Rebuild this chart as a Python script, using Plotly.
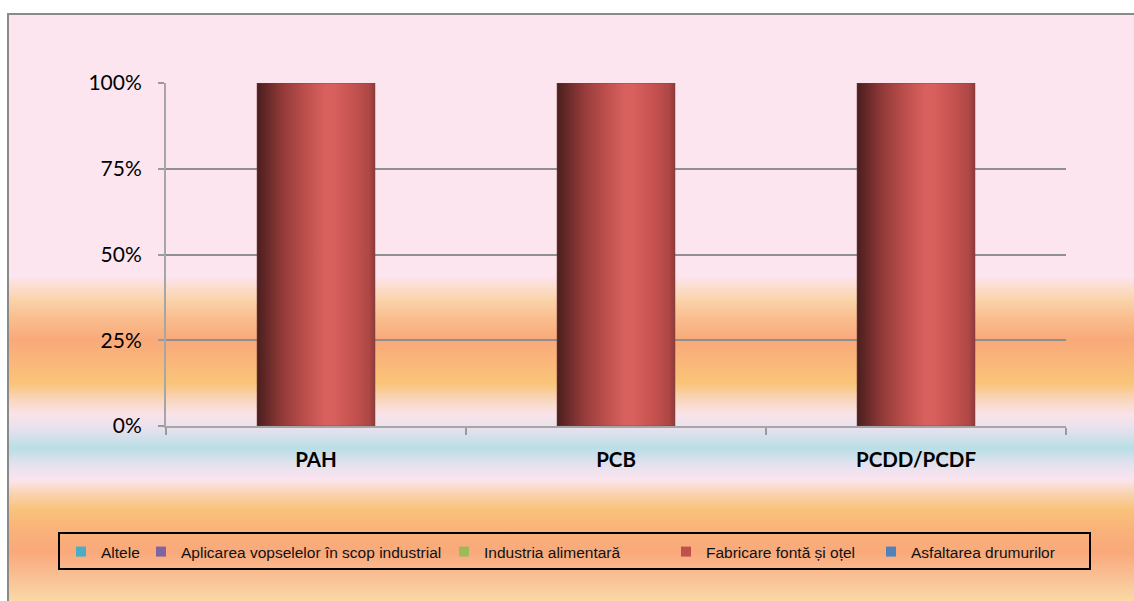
import base64
import plotly.graph_objects as go

# ---------------- data ----------------
categories = ["PAH", "PCB", "PCDD/PCDF"]
series_names = [
    "Altele",
    "Aplicarea vopselelor în scop industrial",
    "Industria alimentară",
    "Fabricare fontă și oțel",
    "Asfaltarea drumurilor",
]
altele = [0, 0, 0]
aplicarea_vopselelor = [0, 0, 0]
industria_alimentara = [0, 0, 0]
fabricare_fonta_otel = [100, 100, 100]
asfaltarea_drumurilor = [0, 0, 0]
series_values = [altele, aplicarea_vopselelor, industria_alimentara,
                 fabricare_fonta_otel, asfaltarea_drumurilor]
series_colors = ["#4BACC6", "#8064A2", "#9BBB59", "#C0504D", "#4F81BD"]
y_tick_vals = [0, 25, 50, 75, 100]
y_tick_text = ["0%", "25%", "50%", "75%", "100%"]

# legend entry widths (px), style only
legend_widths = [35, 258, 177, 160, 160]

W, H = 1134, 601
BAR_W = 0.393

def px_x(p):
    return p / W

def px_y(p):
    return 1 - p / H

fig = go.Figure()

# stacked bars (data)
for name, vals, col in zip(series_names, series_values, series_colors):
    fig.add_trace(go.Bar(
        x=categories, y=vals, name=name, width=BAR_W,
        marker=dict(color=col, line=dict(width=0)),
        xaxis="x", yaxis="y", showlegend=False,
    ))

# legend entries (small square keys)
for name, col, lw in zip(series_names, series_colors, legend_widths):
    fig.add_trace(go.Scatter(
        x=[None], y=[None], name=name, mode="markers",
        marker=dict(symbol="square", size=10, color=col),
        legendwidth=lw, xaxis="x", yaxis="y", hoverinfo="skip",
    ))

# cylinder-like gradient overlay for each non-zero stacked segment
bar_scale = [
    [0.0, "#4A1E1E"], [0.08, "#652828"], [0.22, "#933B39"],
    [0.40, "#BA4E4B"], [0.58, "#D9615E"], [0.66, "#D75F5C"],
    [0.82, "#C55250"], [0.95, "#AE4745"], [1.0, "#8E3B3A"],
]
base = [0.0] * len(categories)
for name, vals, col in zip(series_names, series_values, series_colors):
    for i, v in enumerate(vals):
        if v > 0:
            x0, x1 = i - BAR_W / 2, i + BAR_W / 2
            y0, y1 = base[i], base[i] + v
            fig.add_trace(go.Scatter(
                x=[x0, x0, x1, x1, x0], y=[y0, y1, y1, y0, y0],
                mode="lines", fill="toself",
                line=dict(width=1, color="rgba(120,60,60,0.55)"),
                fillgradient=dict(type="horizontal", colorscale=bar_scale),
                xaxis="x2", yaxis="y", showlegend=False, hoverinfo="skip",
            ))
        base[i] += v

# background gradient as inline SVG image
stops = [
    (14, "#FDE5F0"), (276, "#FDE5F0"), (298, "#FAD5AE"), (318, "#F9BE8E"),
    (340, "#F9A97A"), (362, "#F9B77A"), (383, "#F9C478"), (400, "#F9D6BE"),
    (414, "#FAE3E8"), (428, "#E9E1EE"), (448, "#B9DEE6"), (466, "#E7E2EE"),
    (480, "#FBE4EE"), (494, "#F9D3AE"), (510, "#F9C27A"), (530, "#F9B27A"),
    (552, "#F9A97A"), (578, "#F9C196"), (601, "#FBD8A6"),
]
stop_svg = "".join(
    f'<stop offset="{(y - 14) / (H - 14):.4f}" stop-color="{c}"/>' for y, c in stops
)
svg = (
    f'<svg xmlns="http://www.w3.org/2000/svg" width="{W}" height="{H - 14}" '
    f'viewBox="0 0 {W} {H - 14}" preserveAspectRatio="none">'
    f'<defs><linearGradient id="g" x1="0" y1="0" x2="0" y2="1">{stop_svg}</linearGradient></defs>'
    f'<rect x="0" y="0" width="{W}" height="{H - 14}" fill="url(#g)"/></svg>'
)
src = "data:image/svg+xml;base64," + base64.b64encode(svg.encode()).decode()

fig.update_layout(
    width=W, height=H,
    margin=dict(l=0, r=0, t=0, b=0, pad=0, autoexpand=False),
    paper_bgcolor="white",
    plot_bgcolor="rgba(0,0,0,0)",
    barmode="stack",
    bargap=0,
    images=[dict(source=src, xref="paper", yref="paper",
                 x=px_x(8), y=px_y(14), sizex=1 - px_x(8), sizey=px_y(14),
                 xanchor="left", yanchor="top", sizing="stretch", layer="below")],
    xaxis=dict(
        domain=[px_x(166), px_x(1066)],
        type="category",
        categoryorder="array", categoryarray=categories,
        tickson="boundaries",
        ticks="outside", ticklen=7, tickwidth=2, tickcolor="#9A9A9A",
        showline=True, linecolor="#A6A6A6", linewidth=2,
        showgrid=False,
        tickfont=dict(family="Lato", size=20.5, color="black", weight="bold"),
        ticklabelstandoff=14,
        automargin=False,
        anchor="y",
    ),
    xaxis2=dict(
        overlaying="x", range=[-0.5, len(categories) - 0.5],
        visible=False, anchor="y", automargin=False,
    ),
    yaxis=dict(
        domain=[px_y(426), px_y(83)],
        range=[0, 100],
        tickvals=y_tick_vals, ticktext=y_tick_text,
        ticks="outside", ticklen=6, tickwidth=2, tickcolor="#9A9A9A",
        showline=True, linecolor="#A6A6A6", linewidth=2,
        showgrid=True, gridcolor="#8F8F8F", gridwidth=2,
        zeroline=False,
        tickfont=dict(family="Lato", size=21, color="black"),
        ticklabelstandoff=12,
        automargin=False,
        anchor="x",
    ),
    legend=dict(
        orientation="h",
        x=px_x(61), xanchor="left",
        y=px_y(552), yanchor="middle",
        bgcolor="rgba(0,0,0,0)", borderwidth=0,
        font=dict(family="Liberation Sans", size=15.5, color="#111111"),
        itemwidth=30,
        itemclick=False, itemdoubleclick=False,
        traceorder="normal",
    ),
    shapes=[
        # outer chart border
        dict(type="rect", xref="paper", yref="paper",
             x0=px_x(8), x1=1.05, y0=-0.05, y1=px_y(14),
             line=dict(color="#8A8A8A", width=2), fillcolor="rgba(0,0,0,0)",
             layer="above"),
        # legend border
        dict(type="rect", xref="paper", yref="paper",
             x0=px_x(59), x1=px_x(1090), y0=px_y(569), y1=px_y(533),
             line=dict(color="black", width=2), fillcolor="rgba(0,0,0,0)",
             layer="above"),
    ],
    showlegend=True,
)

fig.write_html(
    "out.html",
    config={"displayModeBar": False},
    post_script="document.body.style.margin='0';document.body.style.overflow='hidden';",
)
